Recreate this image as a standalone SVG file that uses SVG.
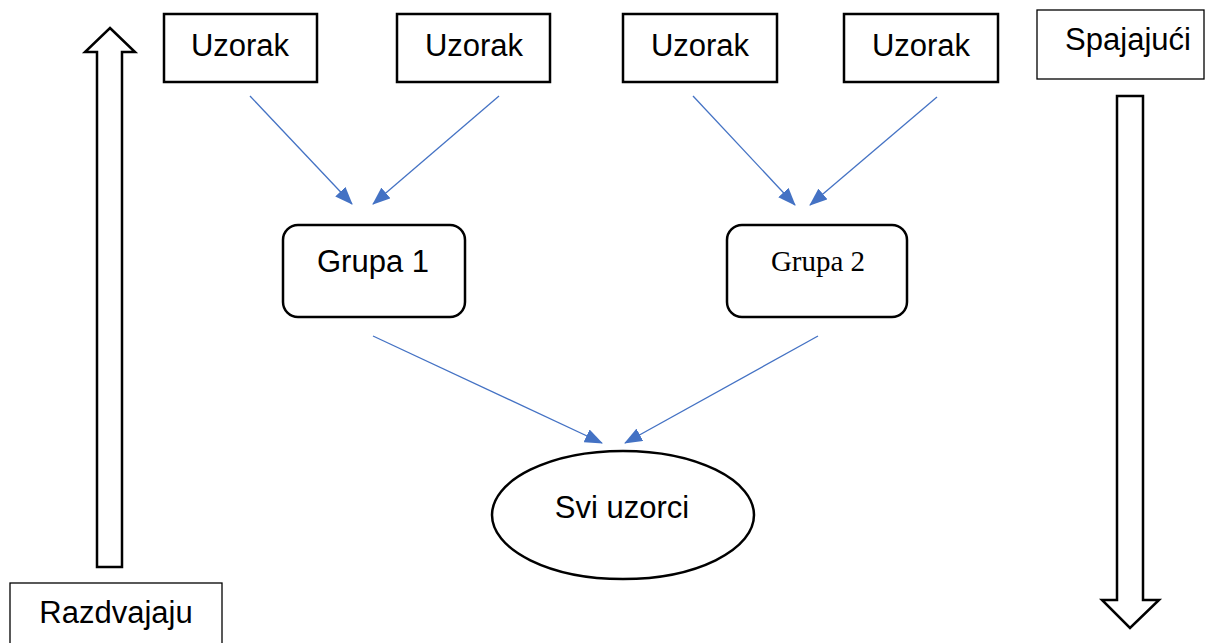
<svg xmlns="http://www.w3.org/2000/svg" width="1206" height="643" viewBox="0 0 1206 643">
<style>
.box{fill:#fff;stroke:#000;stroke-width:2.5}
.thin{fill:#fff;stroke:#000;stroke-width:1.3}
.t{font-family:"Liberation Sans",Arial,sans-serif;font-size:31px;fill:#000;text-anchor:middle}
.ts{font-family:"Liberation Serif","Times New Roman",serif;font-size:29px;fill:#000;text-anchor:middle}
.c{stroke:#4472C4;stroke-width:1.3;fill:none;marker-end:url(#ah)}
.blk{fill:#fff;stroke:#000;stroke-width:2.5;stroke-linejoin:miter}
</style>
<defs>
<marker id="ah" markerUnits="userSpaceOnUse" markerWidth="18" markerHeight="14" refX="17" refY="7" orient="auto">
<path d="M0,0 L18,7 L0,14 z" fill="#4472C4"/>
</marker>
</defs>
<rect width="1206" height="643" fill="#fff"/>
<g id="arrow-up"><polygon class="blk" points="110,28 135,52 122,52 122,567 97,567 97,52 85,52"/></g>
<g id="arrow-down"><polygon class="blk" points="1117,96 1143,96 1143,600 1159,600 1130,628 1102,600 1117,600"/></g>
<g id="label-spajajuci"><rect class="thin" x="1037" y="10" width="167" height="69"/><text class="t" x="1128" y="50">Spajajući</text></g>
<g id="label-razdvajaju"><rect class="thin" x="10" y="583" width="212" height="80"/><text class="t" x="116" y="623">Razdvajaju</text></g>
<g id="uzorak1"><rect class="box" x="164" y="14" width="153" height="68"/><text class="t" x="240" y="56">Uzorak</text></g>
<g id="uzorak2"><rect class="box" x="397" y="14" width="153" height="68"/><text class="t" x="474" y="56">Uzorak</text></g>
<g id="uzorak3"><rect class="box" x="623" y="14" width="154" height="68"/><text class="t" x="700" y="56">Uzorak</text></g>
<g id="uzorak4"><rect class="box" x="844" y="14" width="154" height="68"/><text class="t" x="921" y="56">Uzorak</text></g>
<g id="grupa1"><rect class="box" x="283" y="225" width="182" height="92" rx="15"/><text class="t" x="373" y="272">Grupa 1</text></g>
<g id="grupa2"><rect class="box" x="727" y="225" width="180" height="92" rx="15"/><text class="ts" x="818" y="271">Grupa 2</text></g>
<g id="svi-uzorci"><ellipse class="box" cx="623" cy="515" rx="131" ry="64"/><text class="t" x="622" y="518">Svi uzorci</text></g>
<g id="connectors">
<line class="c" x1="250" y1="96" x2="352" y2="204"/>
<line class="c" x1="499" y1="96" x2="373" y2="204"/>
<line class="c" x1="693" y1="96" x2="795" y2="205"/>
<line class="c" x1="937" y1="97" x2="810" y2="205"/>
<line class="c" x1="373" y1="336" x2="602" y2="443"/>
<line class="c" x1="818" y1="336" x2="625" y2="443"/>
</g>
</svg>
